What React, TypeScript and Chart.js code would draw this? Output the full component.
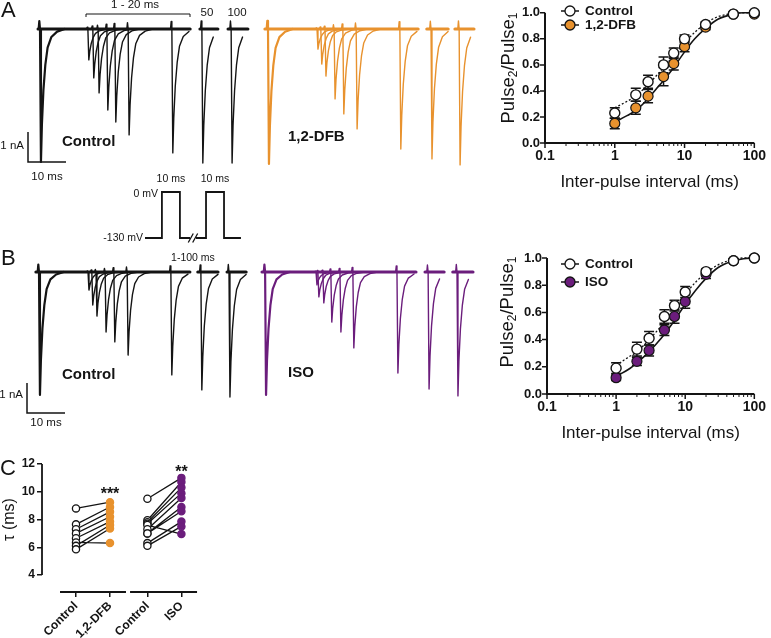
import React, { useEffect, useRef } from "react";
import { Chart, registerables } from "chart.js";
Chart.register(...registerables);

const FONT = "'Liberation Sans', Arial, Helvetica, sans-serif";
Chart.defaults.font.family = FONT;
Chart.defaults.color = "#141414";

const BLACK = "#141414";
const ORANGE = "#E8922E";
const PURPLE = "#6B1D7C";

// ---------------- Panel A / B current traces (ms on the gap-cut display axis, nA) ----------------
const traceACtrlSpikeMs = [0, 12.6, 13.9, 15.3, 17.6, 19.7, 23.2, 34.7, 42.6, 50.3];
const traceACtrlAmpNa = [4.43, 1.03, 1.63, 2.13, 2.7, 3.1, 3.53, 4.13, 4.47, 4.47];
const traceACtrlSegMs = [[-0.5, 39.5], [42.1, 46.8], [49.5, 54.7]];
const traceADfbSpikeMs = [60, 72.9, 73.9, 75.0, 77.4, 79.7, 83.2, 94.7, 102.9, 110.3];
const traceADfbAmpNa = [4.5, 0.67, 1.17, 1.57, 2.33, 2.83, 3.33, 4.0, 4.33, 4.53];
const traceADfbSegMs = [[59.2, 99.5], [101.8, 107.4], [109.2, 114.2]];

const traceBCtrlSpikeMs = [0, 12.9, 13.9, 15.0, 17.4, 19.7, 23.2, 34.7, 42.6, 50.0];
const traceBCtrlAmpNa = [4.1, 0.6, 1.1, 1.47, 2.0, 2.33, 2.77, 3.43, 3.93, 4.17];
const traceBCtrlSegMs = [[-0.8, 39.7], [41.8, 47.1], [49.5, 54.5]];
const traceBIsoSpikeMs = [59.5, 72.9, 73.4, 74.7, 76.8, 79.2, 82.6, 94.2, 102.4, 110.0];
const traceBIsoAmpNa = [4.1, 0.43, 0.83, 1.03, 1.67, 2.0, 2.53, 3.37, 3.9, 4.13];
const traceBIsoSegMs = [[58.7, 99.2], [101.6, 106.6], [108.9, 114.2]];

// waveform of one Na current (ms after pulse onset, fraction of peak; negative = upward artifact)
const spikeShapeMs = [-0.35, -0.18, 0, 0.25, 0.5, 0.9, 1.4, 2.0, 3.0, 4.5, 6.5];
const spikeShapeFrac = [0, -0.06, 0, 1, 0.72, 0.46, 0.27, 0.14, 0.06, 0.02, 0];

const scaleBarMs = 10;
const scaleBarNa = 1;

// ---------------- voltage protocol ----------------
const protocolMs1 = [0, 9.4, 9.4, 19.4, 19.4, 25];
const protocolMs2 = [28.3, 33.9, 33.9, 43.9, 43.9, 53.3];
const protocolMv = [-130, -130, 0, 0, -130, -130];

// ---------------- recovery plots ----------------
const intervalsMs = [1, 2, 3, 5, 7, 10, 20, 50, 100];
const recACtrl = [0.23, 0.37, 0.47, 0.6, 0.69, 0.8, 0.91, 0.99, 1.0];
const recACtrlErr = [0.04, 0.05, 0.05, 0.06, 0.04, 0.03, 0.02, 0.01, 0.01];
const recADfb = [0.15, 0.27, 0.36, 0.51, 0.61, 0.74, 0.89, 0.99, 0.99];
const recADfbErr = [0.04, 0.05, 0.05, 0.07, 0.05, 0.04, 0.02, 0.01, 0.01];
const recBCtrl = [0.19, 0.33, 0.41, 0.57, 0.65, 0.75, 0.9, 0.98, 1.0];
const recBCtrlErr = [0.04, 0.05, 0.05, 0.05, 0.04, 0.04, 0.02, 0.01, 0.01];
const recBIso = [0.12, 0.24, 0.32, 0.47, 0.57, 0.68, 0.88, 0.98, 1.0];
const recBIsoErr = [0.02, 0.03, 0.04, 0.04, 0.05, 0.05, 0.03, 0.01, 0.01];

const fitMs = [1, 1.5, 2, 3, 4, 5, 7, 10, 14, 20, 30, 50, 70, 100];
const fitACtrl = [0.27, 0.32, 0.36, 0.45, 0.52, 0.58, 0.67, 0.77, 0.85, 0.92, 0.97, 0.995, 1.0, 1.0];
const fitADfb = [0.16, 0.21, 0.25, 0.34, 0.42, 0.48, 0.58, 0.7, 0.8, 0.88, 0.95, 0.99, 1.0, 1.0];
const fitBCtrl = [0.21, 0.27, 0.31, 0.4, 0.47, 0.53, 0.62, 0.73, 0.82, 0.89, 0.95, 0.99, 1.0, 1.0];
const fitBIso = [0.13, 0.18, 0.23, 0.31, 0.38, 0.44, 0.54, 0.66, 0.76, 0.85, 0.93, 0.98, 0.995, 1.0];

const recYTicks = [0, 0.2, 0.4, 0.6, 0.8, 1.0];
const logDecades = [0.1, 1, 10];
const logTicks = [...logDecades.flatMap((d) => [1, 2, 3, 4, 5, 6, 7, 8, 9].map((k) => k * d)), 100];

// ---------------- panel C (tau, ms) ----------------
const tauGroups = ["Control", "1,2-DFB", "Control", "ISO"];
const tauXPos = [0, 1, 2.1, 3.1];
const tauCtrl1 = [8.8, 7.65, 7.3, 7.0, 6.65, 6.35, 6.1, 5.85];
const tauDfb = [9.25, 8.9, 8.55, 8.2, 7.85, 6.3, 7.6, 7.35];
const tauCtrl2 = [9.5, 7.95, 7.8, 7.7, 7.6, 7.3, 7.0, 7.0, 6.3, 6.1];
const tauIso = [11.0, 10.7, 10.3, 9.9, 6.95, 9.55, 8.9, 8.6, 7.85, 7.5];
const tauYTicks = [4, 6, 8, 10, 12];

// ---------------- helpers ----------------
function drawTexts(ctx: any, texts: any[]) {
  ctx.save();
  ctx.fillStyle = BLACK;
  for (const s of texts) {
    ctx.font = s.font;
    ctx.textAlign = s.align || "left";
    ctx.textBaseline = s.base || "middle";
    ctx.fillText(s.t, s.x, s.y);
  }
  ctx.restore();
}

const f = (size: number, bold = false) => `${bold ? "bold " : ""}${size}px ${FONT}`;

function spikePoints(t: number, amp: number, segEnd: number) {
  const pts: any[] = [];
  for (let k = 0; k < spikeShapeMs.length; k++) {
    const x = t + spikeShapeMs[k];
    if (x > segEnd) break;
    pts.push({ x, y: -amp * spikeShapeFrac[k] });
  }
  return pts;
}

function traceDatasets(spikeMs: number[], ampNa: number[], segMs: number[][], color: string) {
  const base: any[] = [];
  segMs.forEach(([a, b], i) => {
    if (i > 0) base.push({ x: (segMs[i - 1][1] + a) / 2, y: null });
    base.push({ x: a, y: 0 }, { x: b, y: 0 });
  });
  const common = { pointRadius: 0, tension: 0, spanGaps: false, fill: false, borderJoinStyle: "round", borderCapStyle: "round", borderColor: color };
  const out: any[] = [{ ...common, data: base, borderWidth: 3.2 }];
  spikeMs.forEach((t, i) => {
    const seg = segMs.find(([a, b]) => t >= a && t <= b);
    out.push({ ...common, data: spikePoints(t, ampNa[i], seg ? seg[1] : Infinity), borderWidth: i === 0 ? 2.2 : 1.4 });
  });
  return out;
}

const baseOptions = {
  responsive: false,
  animation: false,
  events: [],
  plugins: { legend: { display: false }, tooltip: { enabled: false }, title: { display: false } },
};

function traceConfig(o: any) {
  return {
    type: "line",
    data: { datasets: o.sets.flatMap((s: any) => traceDatasets(s.spikeMs, s.ampNa, s.segMs, s.color)) },
    options: {
      ...baseOptions,
      layout: { padding: 0 },
      scales: {
        x: { type: "linear", display: false, min: -o.originX / o.pxPerMs, max: (o.W - o.originX) / o.pxPerMs },
        y: { type: "linear", display: false, min: -(o.H - o.originY) / o.pxPerNa, max: o.originY / o.pxPerNa },
      },
    },
    plugins: [
      {
        id: "traceAnnot",
        afterDraw(chart: any) {
          const ctx = chart.ctx;
          const xs = chart.scales.x, ys = chart.scales.y;
          const dx = xs.getPixelForValue(scaleBarMs) - xs.getPixelForValue(0);
          const dy = ys.getPixelForValue(0) - ys.getPixelForValue(scaleBarNa);
          ctx.save();
          ctx.strokeStyle = BLACK;
          ctx.lineWidth = 1.5;
          ctx.beginPath();
          ctx.moveTo(o.sb.x, o.sb.y - dy);
          ctx.lineTo(o.sb.x, o.sb.y);
          ctx.lineTo(o.sb.x + dx, o.sb.y);
          ctx.stroke();
          if (o.bracket) {
            const b = o.bracket;
            ctx.lineWidth = 1;
            ctx.beginPath();
            ctx.moveTo(b.x0, b.y + 3);
            ctx.lineTo(b.x0, b.y);
            ctx.lineTo(b.x1, b.y);
            ctx.lineTo(b.x1, b.y + 3);
            ctx.stroke();
          }
          ctx.restore();
          drawTexts(ctx, o.texts);
        },
      },
    ],
  };
}

function protocolConfig() {
  const W = 160, H = 100, originX = 50, pxPerMs = 1.8, zeroY = 27, pxPerMv = 46 / 130;
  const line = (ms: number[]) => ({
    data: ms.map((x, i) => ({ x, y: protocolMv[i] })),
    borderColor: BLACK, borderWidth: 1.8, pointRadius: 0, tension: 0, borderJoinStyle: "miter", clip: false,
  });
  return {
    type: "line",
    data: { datasets: [line(protocolMs1), line(protocolMs2)] },
    options: {
      ...baseOptions,
      layout: { padding: 0 },
      scales: {
        x: { type: "linear", display: false, min: -originX / pxPerMs, max: (W - originX) / pxPerMs },
        y: { type: "linear", display: false, min: -(H - zeroY) / pxPerMv, max: zeroY / pxPerMv },
      },
    },
    plugins: [
      {
        id: "protoAnnot",
        afterDraw(chart: any) {
          const ctx = chart.ctx;
          const xs = chart.scales.x, ys = chart.scales.y;
          const X = (v: number) => xs.getPixelForValue(v);
          const y0 = ys.getPixelForValue(0), y130 = ys.getPixelForValue(-130);
          const brk = X((protocolMs1[5] + protocolMs2[0]) / 2);
          ctx.save();
          ctx.strokeStyle = BLACK;
          ctx.lineWidth = 1.3;
          ctx.beginPath();
          for (const d of [-2.2, 2.2]) {
            ctx.moveTo(brk + d - 2.5, y130 + 4.5);
            ctx.lineTo(brk + d + 2.5, y130 - 4.5);
          }
          ctx.stroke();
          ctx.restore();
          drawTexts(ctx, [
            { t: "10 ms", x: X((protocolMs1[2] + protocolMs1[3]) / 2), y: 14, font: f(10.5), align: "center" },
            { t: "10 ms", x: X((protocolMs2[2] + protocolMs2[3]) / 2), y: 14, font: f(10.5), align: "center" },
            { t: "0 mV", x: X(protocolMs1[2]) - 4, y: y0 + 2, font: f(10.5), align: "right" },
            { t: "-130 mV", x: X(protocolMs1[0]) - 2, y: y130, font: f(10.5), align: "right" },
            { t: "1-100 ms", x: brk, y: 93, font: f(10.5), align: "center" },
          ]);
        },
      },
    ],
  };
}

function recoveryConfig(o: any) {
  const pts = (vals: number[]) => intervalsMs.map((x, i) => ({ x, y: vals[i] }));
  const fit = (vals: number[]) => fitMs.map((x, i) => ({ x, y: vals[i] }));
  const isDecade = (v: number) => Math.abs(Math.log10(v) - Math.round(Math.log10(v))) < 1e-9;
  return {
    type: "line",
    data: {
      datasets: [
        { data: pts(o.ctrl), err: o.ctrlErr, showLine: false, pointRadius: 5, pointBackgroundColor: "#fff", pointBorderColor: BLACK, pointBorderWidth: 1.4, order: 0, clip: false },
        { data: pts(o.trt), err: o.trtErr, showLine: false, pointRadius: 5, pointBackgroundColor: o.color, pointBorderColor: BLACK, pointBorderWidth: 1.2, order: 1, clip: false },
        { data: fit(o.fitCtrl), borderColor: BLACK, borderWidth: 1.3, borderDash: [2, 2], pointRadius: 0, cubicInterpolationMode: "monotone", order: 2, clip: false },
        { data: fit(o.fitTrt), borderColor: BLACK, borderWidth: 1.6, pointRadius: 0, cubicInterpolationMode: "monotone", order: 2, clip: false },
      ],
    },
    options: {
      ...baseOptions,
      layout: { padding: { top: o.padTop, right: o.padRight, left: 0, bottom: 0 } },
      scales: {
        x: {
          type: "logarithmic", min: 0.1, max: 100,
          grid: { display: false, drawTicks: false }, border: { display: false },
          afterBuildTicks: (s: any) => { s.ticks = logTicks.map((v) => ({ value: v })); },
          afterFit: (s: any) => { s.height = o.xAxisH; },
          ticks: { autoSkip: false, minRotation: 0, maxRotation: 0, padding: 5, color: BLACK, font: { size: 14, weight: "bold" }, callback: (v: any) => (isDecade(Number(v)) ? String(+Number(v).toPrecision(6)) : "") },
        },
        y: {
          type: "linear", min: 0, max: 1,
          grid: { display: false, drawTicks: false }, border: { display: false },
          afterBuildTicks: (s: any) => { s.ticks = recYTicks.map((v) => ({ value: v })); },
          afterFit: (s: any) => { s.width = o.yAxisW; },
          ticks: { padding: 5, color: BLACK, font: { size: 13, weight: "bold" }, callback: (v: any) => Number(v).toFixed(1) },
        },
      },
    },
    plugins: [
      {
        id: "recAxes",
        beforeDatasetsDraw(chart: any) {
          const ctx = chart.ctx;
          const { left, right, bottom } = chart.chartArea;
          const xs = chart.scales.x, ys = chart.scales.y;
          ctx.save();
          ctx.strokeStyle = BLACK;
          ctx.lineCap = "butt";
          ctx.lineWidth = 2;
          ctx.beginPath();
          ctx.moveTo(left, ys.getPixelForValue(1));
          ctx.lineTo(left, bottom);
          ctx.lineTo(right, bottom);
          ctx.stroke();
          ctx.lineWidth = 1.5;
          ctx.beginPath();
          for (const v of recYTicks) {
            const y = ys.getPixelForValue(v);
            ctx.moveTo(left - 5, y);
            ctx.lineTo(left, y);
          }
          ctx.stroke();
          for (const v of logTicks) {
            const x = xs.getPixelForValue(v);
            const major = isDecade(v);
            ctx.lineWidth = major ? 1.5 : 1;
            ctx.beginPath();
            ctx.moveTo(x, bottom);
            ctx.lineTo(x, bottom + (major ? 5 : 3));
            ctx.stroke();
          }
          // error bars
          ctx.lineWidth = 1.5;
          chart.data.datasets.forEach((ds: any, i: number) => {
            if (!ds.err) return;
            const meta = chart.getDatasetMeta(i);
            meta.data.forEach((el: any, j: number) => {
              const v = ds.data[j].y, e = ds.err[j];
              const t = ys.getPixelForValue(v + e), b = ys.getPixelForValue(v - e);
              ctx.beginPath();
              ctx.moveTo(el.x, t); ctx.lineTo(el.x, b);
              ctx.moveTo(el.x - 5, t); ctx.lineTo(el.x + 5, t);
              ctx.moveTo(el.x - 5, b); ctx.lineTo(el.x + 5, b);
              ctx.stroke();
            });
          });
          ctx.restore();
        },
        afterDraw(chart: any) {
          const ctx = chart.ctx;
          const { left, right, bottom } = chart.chartArea;
          // legend
          ctx.save();
          o.legend.forEach((item: any, i: number) => {
            const cx = o.legendX, cy = o.legendY[i];
            ctx.strokeStyle = BLACK;
            ctx.lineWidth = 1.5;
            ctx.beginPath();
            ctx.moveTo(cx - 9, cy); ctx.lineTo(cx + 9, cy);
            ctx.stroke();
            ctx.beginPath();
            ctx.arc(cx, cy, 5, 0, Math.PI * 2);
            ctx.fillStyle = item.fill;
            ctx.fill();
            ctx.lineWidth = 1.3;
            ctx.stroke();
          });
          ctx.restore();
          drawTexts(ctx, [
            ...o.legend.map((item: any, i: number) => ({ t: item.label, x: o.legendX + 15, y: o.legendY[i], font: f(13.5, true) })),
            { t: "Inter-pulse interval (ms)", x: (left + right) / 2, y: bottom + 39, font: f(17), align: "center" },
          ]);
          // y title with subscripts
          const parts = [
            { t: "Pulse", sub: false },
            { t: "2", sub: true },
            { t: "/Pulse", sub: false },
            { t: "1", sub: true },
          ];
          ctx.save();
          ctx.fillStyle = BLACK;
          ctx.textBaseline = "alphabetic";
          const big = f(18.5), small = f(12);
          let total = 0;
          for (const p of parts) { ctx.font = p.sub ? small : big; total += ctx.measureText(p.t).width; }
          ctx.translate(o.yTitleX, o.yTitleY);
          ctx.rotate(-Math.PI / 2);
          let x = -total / 2;
          for (const p of parts) {
            ctx.font = p.sub ? small : big;
            ctx.fillText(p.t, x, p.sub ? 10 : 6.5);
            x += ctx.measureText(p.t).width;
          }
          ctx.restore();
        },
      },
    ],
  };
}

function tauConfig() {
  const pairs = (xa: number, xb: number, a: number[], b: number[]) => {
    const d: any[] = [];
    a.forEach((v, i) => { d.push({ x: xa, y: v }, { x: xb, y: b[i] }, { x: xb + 0.01, y: null }); });
    return d;
  };
  const pointsAt = (x: number, vals: number[]) => vals.map((y) => ({ x, y }));
  const lineDs = (data: any[]) => ({ data, borderColor: BLACK, borderWidth: 1.3, pointRadius: 0, spanGaps: false, order: 2 });
  const ptDs = (data: any[], fill: string, border: string, order: number) => ({
    data, showLine: false, pointRadius: 3.6, pointBackgroundColor: fill, pointBorderColor: border, pointBorderWidth: 1.3, order, clip: false,
  });
  const grid = { display: true, drawOnChartArea: false, drawTicks: true, tickLength: 5, color: BLACK, lineWidth: 1.5 };
  return {
    type: "line",
    data: {
      datasets: [
        lineDs(pairs(tauXPos[0], tauXPos[1], tauCtrl1, tauDfb)),
        lineDs(pairs(tauXPos[2], tauXPos[3], tauCtrl2, tauIso)),
        ptDs(pointsAt(tauXPos[0], tauCtrl1), "#fff", BLACK, 0),
        ptDs(pointsAt(tauXPos[1], tauDfb), ORANGE, ORANGE, 0),
        ptDs(pointsAt(tauXPos[2], tauCtrl2), "#fff", BLACK, 0),
        ptDs(pointsAt(tauXPos[3], tauIso), PURPLE, PURPLE, 0),
      ],
    },
    options: {
      ...baseOptions,
      layout: { padding: { top: 24, right: 25, left: 0, bottom: 0 } },
      scales: {
        x: {
          type: "linear", min: -1, max: 3.794,
          grid, border: { display: false },
          afterBuildTicks: (s: any) => { s.ticks = tauXPos.map((v) => ({ value: v })); },
          afterFit: (s: any) => { s.height = 46; },
          ticks: { autoSkip: false, minRotation: 45, maxRotation: 45, padding: 2, color: BLACK, font: { size: 12, weight: "bold" }, callback: (_v: any, i: number) => tauGroups[i] },
        },
        y: {
          type: "linear", min: 4 - 17 / 13.875, max: 12,
          grid, border: { display: false },
          afterBuildTicks: (s: any) => { s.ticks = tauYTicks.map((v) => ({ value: v })); },
          afterFit: (s: any) => { s.width = 42; },
          ticks: { padding: 2, color: BLACK, font: { size: 12, weight: "bold" } },
        },
      },
    },
    plugins: [
      {
        id: "tauAxes",
        beforeDatasetsDraw(chart: any) {
          const ctx = chart.ctx;
          const { left, bottom } = chart.chartArea;
          const xs = chart.scales.x, ys = chart.scales.y;
          ctx.save();
          ctx.strokeStyle = BLACK;
          ctx.lineWidth = 1.8;
          ctx.beginPath();
          ctx.moveTo(left, ys.getPixelForValue(tauYTicks[0]));
          ctx.lineTo(left, ys.getPixelForValue(tauYTicks[tauYTicks.length - 1]));
          ctx.stroke();
          ctx.lineWidth = 2;
          ctx.beginPath();
          for (const [a, b] of [[-0.47, 1.47], [1.59, 3.56]]) {
            ctx.moveTo(xs.getPixelForValue(a), bottom);
            ctx.lineTo(xs.getPixelForValue(b), bottom);
          }
          ctx.stroke();
          ctx.restore();
        },
        afterDraw(chart: any) {
          const ctx = chart.ctx;
          const xs = chart.scales.x, ys = chart.scales.y;
          const midY = (ys.getPixelForValue(4) + ys.getPixelForValue(12)) / 2;
          drawTexts(ctx, [
            { t: "C", x: 0, y: 29, font: f(22) },
            { t: "***", x: xs.getPixelForValue(tauXPos[1]), y: 59, font: f(16, true), align: "center", base: "alphabetic" },
            { t: "**", x: xs.getPixelForValue(tauXPos[3]), y: 37, font: f(16, true), align: "center", base: "alphabetic" },
          ]);
          ctx.save();
          ctx.fillStyle = BLACK;
          ctx.font = f(16);
          ctx.textAlign = "center";
          ctx.textBaseline = "middle";
          ctx.translate(10, midY);
          ctx.rotate(-Math.PI / 2);
          ctx.fillText("τ (ms)", 0, 0);
          ctx.restore();
        },
      },
    ],
  };
}

function ChartCanvas({ left, top, width, height, make }: any) {
  const ref = useRef<HTMLCanvasElement>(null);
  useEffect(() => {
    const chart = new Chart(ref.current as any, make());
    return () => chart.destroy();
  }, []);
  return <canvas ref={ref} width={width} height={height} style={{ position: "absolute", left, top, width, height }} />;
}

const traceA = () =>
  traceConfig({
    W: 490, H: 190, originX: 40, originY: 29, pxPerMs: 3.8, pxPerNa: 30,
    sets: [
      { spikeMs: traceACtrlSpikeMs, ampNa: traceACtrlAmpNa, segMs: traceACtrlSegMs, color: BLACK },
      { spikeMs: traceADfbSpikeMs, ampNa: traceADfbAmpNa, segMs: traceADfbSegMs, color: ORANGE },
    ],
    sb: { x: 28, y: 162 },
    bracket: { x0: 86, x1: 190, y: 14 },
    texts: [
      { t: "A", x: 1, y: 11, font: f(22) },
      { t: "1 - 20 ms", x: 135, y: 4.5, font: f(11.5), align: "center" },
      { t: "50", x: 207, y: 13, font: f(11.5), align: "center" },
      { t: "100", x: 237, y: 13, font: f(11.5), align: "center" },
      { t: "Control", x: 62, y: 142, font: f(15, true) },
      { t: "1,2-DFB", x: 288, y: 137, font: f(15, true) },
      { t: "1 nA", x: 24, y: 146, font: f(11.5), align: "right" },
      { t: "10 ms", x: 47, y: 177, font: f(11.5), align: "center" },
    ],
  });

const traceB = () =>
  traceConfig({
    W: 490, H: 200, originX: 39, originY: 32, pxPerMs: 3.8, pxPerNa: 30,
    sets: [
      { spikeMs: traceBCtrlSpikeMs, ampNa: traceBCtrlAmpNa, segMs: traceBCtrlSegMs, color: BLACK },
      { spikeMs: traceBIsoSpikeMs, ampNa: traceBIsoAmpNa, segMs: traceBIsoSegMs, color: PURPLE },
    ],
    sb: { x: 27, y: 173 },
    texts: [
      { t: "B", x: 1, y: 19, font: f(22) },
      { t: "Control", x: 62, y: 135, font: f(15, true) },
      { t: "ISO", x: 288, y: 133, font: f(15, true) },
      { t: "1 nA", x: 23, y: 155, font: f(11.5), align: "right" },
      { t: "10 ms", x: 46, y: 183, font: f(11.5), align: "center" },
    ],
  });

const recA = () =>
  recoveryConfig({
    ctrl: recACtrl, ctrlErr: recACtrlErr, trt: recADfb, trtErr: recADfbErr,
    fitCtrl: fitACtrl, fitTrt: fitADfb, color: ORANGE,
    padTop: 7, padRight: 13, yAxisW: 55, xAxisH: 57,
    legend: [{ label: "Control", fill: "#fff" }, { label: "1,2-DFB", fill: ORANGE }],
    legendX: 80, legendY: [11, 25], yTitleX: 17, yTitleY: 68,
  });

const recB = () =>
  recoveryConfig({
    ctrl: recBCtrl, ctrlErr: recBCtrlErr, trt: recBIso, trtErr: recBIsoErr,
    fitCtrl: fitBCtrl, fitTrt: fitBIso, color: PURPLE,
    padTop: 18, padRight: 11, yAxisW: 57, xAxisH: 56,
    legend: [{ label: "Control", fill: "#fff" }, { label: "ISO", fill: PURPLE }],
    legendX: 80, legendY: [24, 42], yTitleX: 16, yTitleY: 72,
  });

export default function App() {
  return (
    <div style={{ position: "absolute", left: 0, top: 0, width: 771, height: 638, background: "#fff", overflow: "hidden" }}>
      <ChartCanvas left={0} top={0} width={490} height={190} make={traceA} />
      <ChartCanvas left={0} top={240} width={490} height={200} make={traceB} />
      <ChartCanvas left={95} top={165} width={160} height={100} make={protocolConfig} />
      <ChartCanvas left={490} top={0} width={281} height={200} make={recA} />
      <ChartCanvas left={490} top={240} width={281} height={210} make={recB} />
      <ChartCanvas left={0} top={440} width={230} height={198} make={tauConfig} />
    </div>
  );
}
